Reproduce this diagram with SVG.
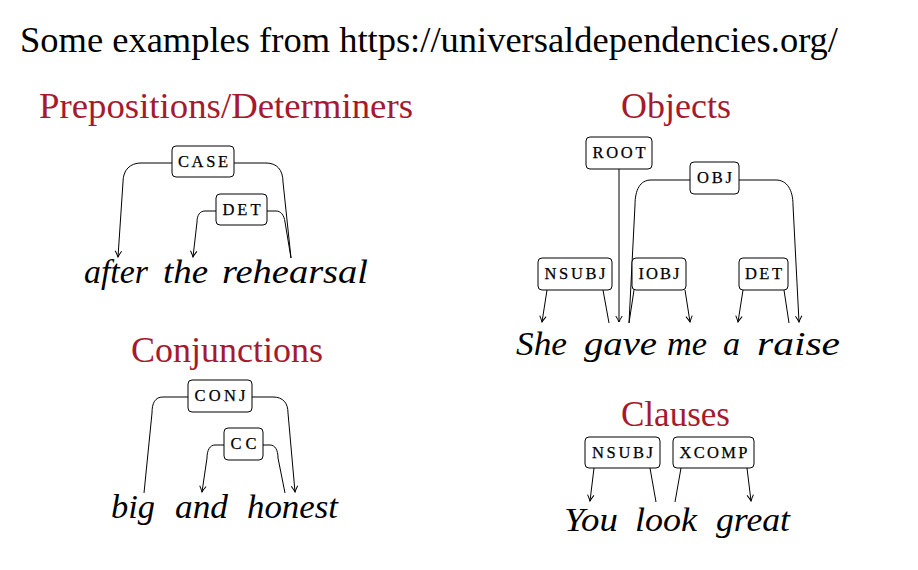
<svg xmlns="http://www.w3.org/2000/svg" width="918" height="570" viewBox="0 0 918 570">
<style>
.bg{fill:#fff}
.head{font-size:36px;fill:#000}
.title{font-size:36px;fill:#a6192e}
.word{font-size:33px;font-style:italic;fill:#000}
.lbl{font-size:16.5px;fill:#000;text-anchor:middle;stroke:#000;stroke-width:0.25}
.box{fill:#fff;stroke:#000;stroke-width:1}
.edge{fill:none;stroke:#000;stroke-width:1}
</style>
<defs>
<marker id="arr" viewBox="-8 -5 10 10" refX="0" refY="0" markerWidth="10" markerHeight="10" markerUnits="userSpaceOnUse" orient="auto">
<path d="M-6,-3.2 Q-2,-0.8 0,0 Q-2,0.8 -6,3.2" fill="none" stroke="#000" stroke-width="1"/>
</marker>
</defs>
<rect class="bg" x="0" y="0" width="918" height="570"/>
<g font-family="Liberation Serif, Times New Roman, serif">
<text class="head" x="20" y="52" textLength="818" lengthAdjust="spacingAndGlyphs">Some examples from https://universaldependencies.org/</text>

<text class="title" x="39" y="118" textLength="374" lengthAdjust="spacingAndGlyphs">Prepositions/Determiners</text>
<text class="title" x="621" y="118" textLength="110" lengthAdjust="spacingAndGlyphs">Objects</text>
<text class="title" x="131" y="362" textLength="192" lengthAdjust="spacingAndGlyphs">Conjunctions</text>
<text class="title" x="621" y="426" textLength="109" lengthAdjust="spacingAndGlyphs">Clauses</text>

<g id="connectors">
<path class="edge" d="M172,163 H141 C130,163 123,170 123,182 L118,257" marker-end="url(#arr)"/>
<path class="edge" d="M234,163 H266 C277,163 283,170 283,182 L291,258"/>
<path class="edge" d="M216,211 H205 C200,211 197,215 197,222 L193,257" marker-end="url(#arr)"/>
<path class="edge" d="M267,211 H276 C281,211 284,215 285,222 L291,258"/>
<path class="edge" d="M619,169 L619,322" marker-end="url(#arr)"/>
<path class="edge" d="M690,180 H651 C640,180 635,190 635,205 L629,323"/>
<path class="edge" d="M739,180 H776 C787,180 793,190 793,205 L799,322" marker-end="url(#arr)"/>
<path class="edge" d="M547,290 L542,322" marker-end="url(#arr)"/>
<path class="edge" d="M603,290 L609,323"/>
<path class="edge" d="M634,290 L629,323"/>
<path class="edge" d="M685,290 L690,322" marker-end="url(#arr)"/>
<path class="edge" d="M743,290 L738,322" marker-end="url(#arr)"/>
<path class="edge" d="M784,290 L789,323"/>
<path class="edge" d="M188,397 H163 C155,397 152,403 152,413 L144,493"/>
<path class="edge" d="M252,397 H273 C283,397 288,403 288,413 L295,492" marker-end="url(#arr)"/>
<path class="edge" d="M224,445 H215 C210,445 207,450 207,458 L202,492" marker-end="url(#arr)"/>
<path class="edge" d="M263,445 H270 C275,445 278,450 278,458 L285,493"/>
<path class="edge" d="M594,468 L590,501" marker-end="url(#arr)"/>
<path class="edge" d="M650,468 L656,502"/>
<path class="edge" d="M681,468 L675,502"/>
<path class="edge" d="M747,468 L751,501" marker-end="url(#arr)"/>
</g>

<g id="case"><rect class="box" x="172" y="146" width="62" height="31" rx="4"/><text class="lbl" x="203" y="167" textLength="50" lengthAdjust="spacing">CASE</text></g>
<g id="det1"><rect class="box" x="216" y="194" width="51" height="31" rx="4"/><text class="lbl" x="241.5" y="215" textLength="38" lengthAdjust="spacing">DET</text></g>

<g id="root"><rect class="box" x="586" y="137" width="66" height="32" rx="4"/><text class="lbl" x="619" y="158" textLength="53" lengthAdjust="spacing">ROOT</text></g>
<g id="obj"><rect class="box" x="690" y="162" width="49" height="32" rx="4"/><text class="lbl" x="714.5" y="183" textLength="35" lengthAdjust="spacing">OBJ</text></g>
<g id="nsubj1"><rect class="box" x="538" y="258" width="74" height="32" rx="4"/><text class="lbl" x="575" y="279" textLength="61" lengthAdjust="spacing">NSUBJ</text></g>
<g id="iobj"><rect class="box" x="632" y="258" width="54" height="32" rx="4"/><text class="lbl" x="659" y="279" textLength="41" lengthAdjust="spacing">IOBJ</text></g>
<g id="det2"><rect class="box" x="739" y="258" width="49" height="32" rx="4"/><text class="lbl" x="763.5" y="279" textLength="37" lengthAdjust="spacing">DET</text></g>

<g id="conj"><rect class="box" x="188" y="380" width="64" height="32" rx="4"/><text class="lbl" x="220" y="401" textLength="51" lengthAdjust="spacing">CONJ</text></g>
<g id="cc"><rect class="box" x="224" y="428" width="39" height="32" rx="4"/><text class="lbl" x="243.5" y="449" textLength="26" lengthAdjust="spacing">CC</text></g>

<g id="nsubj2"><rect class="box" x="585" y="437" width="75" height="31" rx="4"/><text class="lbl" x="622.5" y="458" textLength="61" lengthAdjust="spacing">NSUBJ</text></g>
<g id="xcomp"><rect class="box" x="673" y="437" width="81" height="31" rx="4"/><text class="lbl" x="713.5" y="458" textLength="68" lengthAdjust="spacing">XCOMP</text></g>

<g id="sent1">
<text class="word" x="84" y="283" textLength="64" lengthAdjust="spacingAndGlyphs">after</text>
<text class="word" x="163" y="283" textLength="45" lengthAdjust="spacingAndGlyphs">the</text>
<text class="word" x="222" y="283" textLength="146" lengthAdjust="spacingAndGlyphs">rehearsal</text>
</g>
<g id="sent2">
<text class="word" x="516" y="355" textLength="51" lengthAdjust="spacingAndGlyphs">She</text>
<text class="word" x="584" y="355" textLength="73" lengthAdjust="spacingAndGlyphs">gave</text>
<text class="word" x="667" y="355" textLength="40" lengthAdjust="spacingAndGlyphs">me</text>
<text class="word" x="723" y="355" textLength="17" lengthAdjust="spacingAndGlyphs">a</text>
<text class="word" x="757" y="355" textLength="83" lengthAdjust="spacingAndGlyphs">raise</text>
</g>
<g id="sent3">
<text class="word" x="111" y="518" textLength="44" lengthAdjust="spacingAndGlyphs">big</text>
<text class="word" x="175" y="518" textLength="53" lengthAdjust="spacingAndGlyphs">and</text>
<text class="word" x="247" y="518" textLength="91" lengthAdjust="spacingAndGlyphs">honest</text>
</g>
<g id="sent4">
<text class="word" x="564" y="531" textLength="54" lengthAdjust="spacingAndGlyphs">You</text>
<text class="word" x="635" y="531" textLength="62" lengthAdjust="spacingAndGlyphs">look</text>
<text class="word" x="716" y="531" textLength="74" lengthAdjust="spacingAndGlyphs">great</text>
</g>
</g>
</svg>
